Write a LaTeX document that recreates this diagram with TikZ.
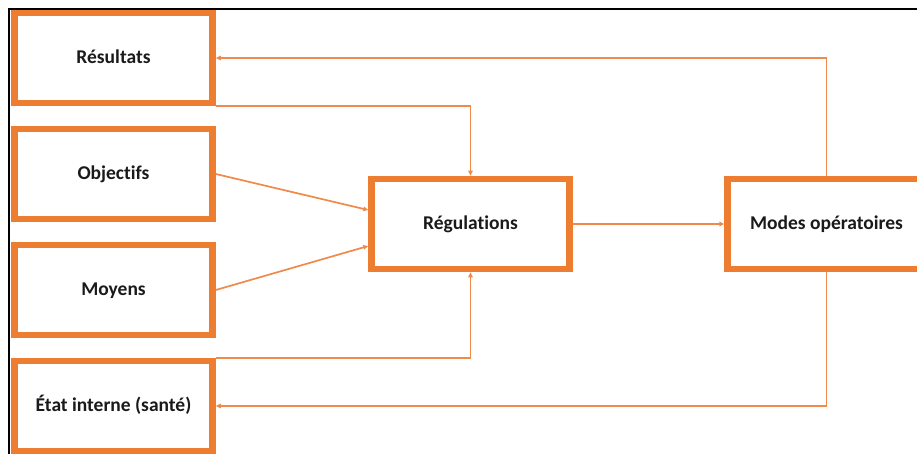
\documentclass[tikz,border=0pt]{standalone}
\usepackage{fontspec}
\setmainfont{Carlito}[Ligatures=NoCommon]
\usetikzlibrary{arrows.meta}
\definecolor{boxorange}{HTML}{ED7D31}
\definecolor{linkorange}{HTML}{F08A4B}
\definecolor{labelink}{HTML}{1A1A1A}
\begin{document}
\begin{tikzpicture}[x=1pt,y=-1pt,
  block/.style={draw=boxorange, line width=6.5pt, fill=white,
    minimum width=198pt, minimum height=90pt, inner sep=0pt,
    text height=14pt, text depth=3pt,
    font=\bfseries\fontsize{19.5}{22}\selectfont, text=labelink},
  link/.style={draw=linkorange, line width=1.7pt,
    -{Triangle[length=5pt,width=4.5pt]}}]
\useasboundingbox (0,0) rectangle (917,454);
\begin{scope}
\clip (0,0) rectangle (917,454);
% frame edges
\draw[line width=2pt, black] (917,9) -- (9,9) -- (9,454);
% boxes
\node[block] (res)   at (113.5,58)  {Résultats};
\node[block] (obj)   at (113.5,174) {Objectifs};
\node[block] (moy)   at (113.5,290) {Moyens};
\node[block] (etat)  at (113.5,406) {État interne (santé)};
\node[block] (reg)   at (470.5,224) {Régulations};
\node[block] (modes) at (826.5,224) {Modes opératoires};
% connectors
\draw[link] (modes.north) |- (res.east);
\draw[link] (res.south east) -| (reg.north);
\draw[link] (obj.east) -- ([yshift=14pt]reg.west);
\draw[link] (moy.east) -- ([yshift=-22pt]reg.west);
\draw[link] (etat.north east) -| (reg.south);
\draw[link] (reg.east) -- (modes.west);
\draw[link] (modes.south) |- (etat.east);
\end{scope}
\end{tikzpicture}
\end{document}
